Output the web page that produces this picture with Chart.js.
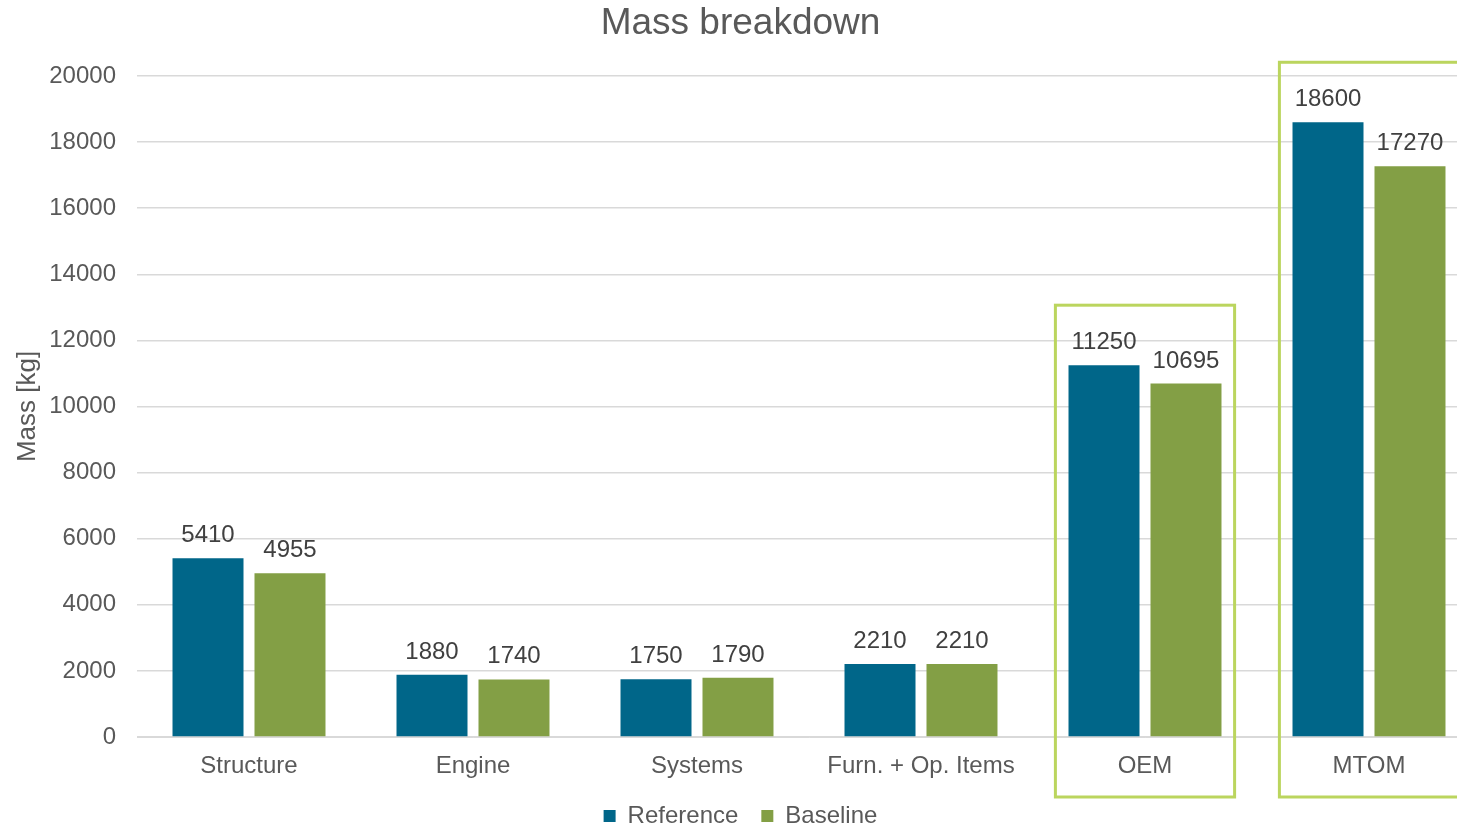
<!DOCTYPE html>
<html>
<head>
<meta charset="utf-8">
<script src="https://cdn.jsdelivr.net/npm/chart.js@4.4.1/dist/chart.umd.min.js"></script>
<style>
  html, body { margin: 0; padding: 0; background: #ffffff; overflow: hidden; }
  #wrap { position: relative; width: 1486px; height: 828px; }
</style>
</head>
<body>
<div id="wrap"><canvas id="chart"></canvas></div>
<script>
// Mass breakdown per group, in kg
const categories = ["Structure", "Engine", "Systems", "Furn. + Op. Items", "OEM", "MTOM"];
const referenceMass = [5410, 1880, 1750, 2210, 11250, 18600];
const baselineMass = [4955, 1740, 1790, 2210, 10695, 17270];
const seriesNames = ["Reference", "Baseline"];
const highlighted = ["OEM", "MTOM"];
const yTicks = [0, 2000, 4000, 6000, 8000, 10000, 12000, 14000, 16000, 18000, 20000];

const FONT = "'Liberation Sans', Arial, sans-serif";
const TEXT = "#595959";

// Writes each bar's value just above it
const valueLabels = {
  id: "valueLabels",
  afterDatasetsDraw(chart) {
    const ctx = chart.ctx;
    ctx.save();
    ctx.font = "24px " + FONT;
    ctx.fillStyle = "#404040";
    ctx.textAlign = "center";
    ctx.textBaseline = "alphabetic";
    chart.data.datasets.forEach((ds, di) => {
      chart.getDatasetMeta(di).data.forEach((bar, i) => {
        ctx.fillText(String(ds.data[i]), bar.x, bar.y - 16);
      });
    });
    ctx.restore();
  }
};

// Outlines the totals categories
const groupFrames = {
  id: "groupFrames",
  afterDraw(chart) {
    const { ctx, scales: { x, y } } = chart;
    const catWidth = x.width / categories.length;
    ctx.save();
    ctx.strokeStyle = "#BBD55E";
    ctx.lineWidth = 3;
    highlighted.forEach(name => {
      const i = categories.indexOf(name);
      const top = Math.max(...chart.data.datasets.map(d => d.data[i]));
      const cx = x.getPixelForValue(i);
      const half = catWidth * 0.4;
      const yTop = y.getPixelForValue(top) - 60;
      const yBottom = y.getPixelForValue(0) + 60;
      ctx.strokeRect(cx - half, yTop, half * 2, yBottom - yTop);
    });
    ctx.restore();
  }
};

new Chart(document.getElementById("chart"), {
  type: "bar",
  data: {
    labels: categories,
    datasets: [
      { label: seriesNames[0], data: referenceMass, backgroundColor: "#006689" },
      { label: seriesNames[1], data: baselineMass, backgroundColor: "#839F45" }
    ]
  },
  options: {
    responsive: true,
    maintainAspectRatio: false,
    animation: false,
    datasets: { bar: { categoryPercentage: 0.732, barPercentage: 0.866 } },
    layout: { padding: { left: 0, right: 5, top: 0, bottom: -10 } },
    plugins: {
      title: {
        display: true,
        text: "Mass breakdown",
        color: TEXT,
        font: { family: FONT, size: 37, weight: "normal" },
        padding: { top: 2, bottom: 29.6 }
      },
      legend: {
        position: "bottom",
        labels: {
          color: TEXT,
          font: { family: FONT, size: 24 },
          boxWidth: 12,
          boxHeight: 12,
          padding: 23
        }
      },
      tooltip: { enabled: false }
    },
    scales: {
      x: {
        grid: { display: false, drawTicks: false },
        border: { color: "#D9D9D9", width: 1 },
        ticks: { color: TEXT, font: { family: FONT, size: 24 }, padding: 15 },
        afterFit(scale) { scale.height = 44; }
      },
      y: {
        min: 0,
        max: 20000,
        afterBuildTicks(scale) { scale.ticks = yTicks.map(v => ({ value: v })); },
        afterFit(scale) { scale.width = 137; },
        grid: { color: "#D9D9D9", lineWidth: 1.5, drawTicks: false },
        border: { display: false },
        ticks: {
          color: TEXT,
          font: { family: FONT, size: 24 },
          padding: 21,
          callback: v => String(v)
        },
        title: {
          display: true,
          text: "Mass [kg]",
          color: TEXT,
          font: { family: FONT, size: 26 },
          padding: { top: 12, bottom: 0 }
        }
      }
    }
  },
  plugins: [valueLabels, groupFrames]
});
</script>
</body>
</html>
